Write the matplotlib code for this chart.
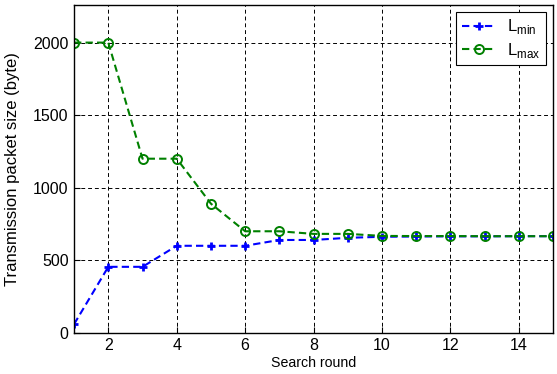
import numpy as np
import matplotlib.pyplot as plt

plt.rcParams['font.family'] = ['Liberation Sans', 'DejaVu Sans']
plt.rcParams['mathtext.fontset'] = 'custom'
plt.rcParams['mathtext.rm'] = 'Liberation Sans'

# Search rounds and packet size bounds
rounds = np.arange(1, 16)
l_min = [60, 455, 455, 600, 600, 600, 640, 640, 655, 662, 664, 665, 665, 666, 666]
l_max = [2000, 2000, 1200, 1200, 890, 700, 700, 682, 682, 668, 667, 667, 666, 666, 666]

fig = plt.figure(figsize=(5.57, 3.74), dpi=100)
ax = fig.add_axes([0.133, 0.11, 0.860, 0.877])

ax.plot(rounds, l_min, color='blue', linestyle=(0, (3.5, 2)), lw=1.5,
        marker='+', markersize=6, markeredgewidth=2.0,
        label=r'L$_{\mathrm{min}}$')
ax.plot(rounds, l_max, color=(0, 0.5, 0), linestyle=(0, (3.5, 2)), lw=1.5,
        marker='o', markersize=6.5, markerfacecolor='none', markeredgewidth=1.4,
        label=r'L$_{\mathrm{max}}$')

ax.set_xlim(1, 15)
ax.set_ylim(0, 2260)
ax.set_xticks(np.arange(2, 15, 2))
ax.set_yticks(np.arange(0, 2001, 500))
ax.tick_params(direction='in', length=4, width=0.8, colors='black',
               labelsize=11.5)
ax.tick_params(axis='x', pad=4)
ax.tick_params(axis='y', pad=4)
ax.grid(True, color='black', linestyle=(0, (4, 3)), linewidth=0.7)
for s in ax.spines.values():
    s.set_linewidth(1.0)

ax.set_xlabel('Search round', fontsize=10.2, labelpad=2)
ax.set_ylabel('Transmission packet size (byte)', fontsize=12)
ax.yaxis.set_label_coords(-0.112, 0.5)

leg = ax.legend(loc='upper right', fancybox=False, framealpha=1,
                edgecolor='black', fontsize=12, handlelength=2.0,
                handletextpad=0.7, borderaxespad=0.4, borderpad=0.35,
                labelspacing=0.25)
leg.get_frame().set_linewidth(0.8)

fig.savefig('out.png', dpi=100)
